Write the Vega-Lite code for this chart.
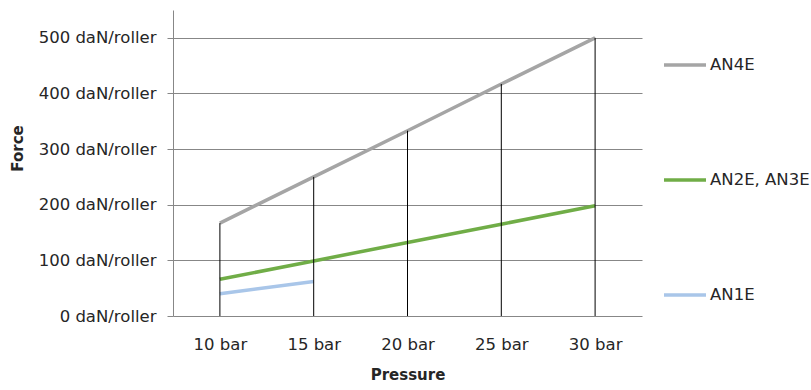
{
  "$schema": "https://vega.github.io/schema/vega-lite/v6.json",
  "autosize": {"type": "none"},
  "width": 469,
  "height": 306,
  "padding": {"left": 173, "top": 10, "right": 169, "bottom": 74},
  "background": "white",
  "config": {
    "view": {"stroke": null},
    "font": "DejaVu Sans",
    "axis": {"labelFont": "DejaVu Sans", "labelFontSize": 16.5, "labelColor": "#262626", "titleFont": "DejaVu Sans", "titleFontSize": 15, "titleFontWeight": "bold", "titleColor": "#262626"},
    "legend": {"labelFont": "DejaVu Sans", "labelFontSize": 16.5, "labelColor": "#262626"}
  },
  "data": {
    "values": [
      {"pressure": "10 bar", "series": "AN4E", "force": 167},
      {"pressure": "15 bar", "series": "AN4E", "force": 250},
      {"pressure": "20 bar", "series": "AN4E", "force": 333},
      {"pressure": "25 bar", "series": "AN4E", "force": 417},
      {"pressure": "30 bar", "series": "AN4E", "force": 500},
      {"pressure": "10 bar", "series": "AN2E, AN3E", "force": 66},
      {"pressure": "15 bar", "series": "AN2E, AN3E", "force": 99},
      {"pressure": "20 bar", "series": "AN2E, AN3E", "force": 132},
      {"pressure": "25 bar", "series": "AN2E, AN3E", "force": 165},
      {"pressure": "30 bar", "series": "AN2E, AN3E", "force": 198},
      {"pressure": "10 bar", "series": "AN1E", "force": 40},
      {"pressure": "15 bar", "series": "AN1E", "force": 62}
    ]
  },
  "encoding": {
    "x": {
      "field": "pressure", "type": "ordinal",
      "scale": {"type": "point", "padding": 0.5},
      "axis": {"title": "Pressure", "labelAngle": 0, "ticks": false, "domain": false, "labelPadding": 20, "titlePadding": 15}
    }
  },
  "layer": [
    {
      "mark": {"type": "line", "strokeWidth": 3.5},
      "encoding": {
        "y": {
          "field": "force", "type": "quantitative",
          "scale": {"domain": [0, 550], "nice": false},
          "axis": {
            "title": "Force", "values": [0, 100, 200, 300, 400, 500],
            "labelExpr": "datum.value + ' daN/roller'",
            "grid": true, "gridColor": "#878787", "gridWidth": 1, "gridOpacity": 1,
            "domainColor": "#878787", "tickColor": "#878787", "tickSize": 6,
            "labelPadding": 11, "titleAngle": -90, "titleX": -156, "titleY": 138, "titleBaseline": "middle", "titleAlign": "center"
          }
        },
        "color": {
          "field": "series", "type": "nominal",
          "scale": {"domain": ["AN4E", "AN2E, AN3E", "AN1E"], "range": ["#A5A5A5", "#70AD47", "#A9C6E9"]},
          "legend": {
            "title": null, "orient": "none", "legendX": 489, "legendY": 32,
            "symbolType": "stroke", "symbolSize": 1764, "symbolStrokeWidth": 3.5,
            "rowPadding": 83, "labelOffset": 2
          }
        }
      }
    },
    {
      "transform": [{"aggregate": [{"op": "max", "field": "force", "as": "top"}], "groupby": ["pressure"]}],
      "mark": {"type": "rule", "color": "black", "strokeWidth": 1},
      "encoding": {
        "y": {"field": "top", "type": "quantitative"},
        "y2": {"datum": 0}
      }
    }
  ]
}
